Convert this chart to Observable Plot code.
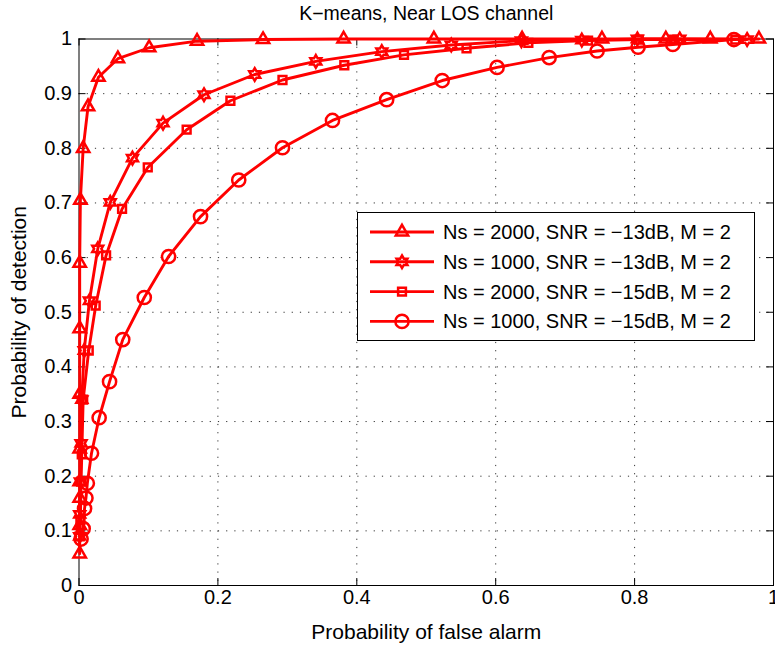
<!DOCTYPE html>
<html><head><meta charset="utf-8">
<script src="https://cdn.jsdelivr.net/npm/d3@7"></script>
<script src="https://cdn.jsdelivr.net/npm/@observablehq/plot@0.6"></script>
<style>
body{margin:0;background:#fff;}
#wrap{position:relative;width:775px;height:646px;overflow:hidden;}
#legend{position:absolute;left:357px;top:212px;}
</style></head><body><div id="wrap"></div>
<script>
const title = "K−means, Near LOS channel";
const xLabel = "Probability of false alarm";
const yLabel = "Probability of detection";
const seriesNames = [
  "Ns = 2000, SNR = −13dB, M = 2",
  "Ns = 1000, SNR = −13dB, M = 2",
  "Ns = 2000, SNR = −15dB, M = 2",
  "Ns = 1000, SNR = −15dB, M = 2"
];
const xTicks = [0, 0.2, 0.4, 0.6, 0.8, 1];
const xTickLabels = ["0", "0.2", "0.4", "0.6", "0.8", "1"];
const yTicks = [0, 0.1, 0.2, 0.3, 0.4, 0.5, 0.6, 0.7, 0.8, 0.9, 1];
const yTickLabels = ["0", "0.1", "0.2", "0.3", "0.4", "0.5", "0.6", "0.7", "0.8", "0.9", "1"];

// Ns = 2000, SNR = -13dB (triangles)
const pfaA = [0.001, 0.001, 0.001, 0.001, 0.001, 0.001, 0.001, 0.001, 0.002, 0.006, 0.013, 0.028, 0.056, 0.101, 0.170, 0.265, 0.381, 0.511, 0.638, 0.753, 0.845, 0.909, 0.979];
const pdA  = [0.058, 0.110, 0.160, 0.190, 0.250, 0.350, 0.470, 0.590, 0.705, 0.800, 0.876, 0.930, 0.964, 0.984, 0.996, 0.999, 1.000, 1.000, 1.000, 1.000, 1.000, 1.000, 1.000];
// Ns = 1000, SNR = -13dB (hexagrams)
const pfaB = [0.001, 0.001, 0.002, 0.003, 0.004, 0.0075, 0.015, 0.027, 0.045, 0.077, 0.121, 0.180, 0.253, 0.341, 0.436, 0.536, 0.637, 0.724, 0.804, 0.865, 0.962];
const pdB  = [0.090, 0.130, 0.190, 0.260, 0.340, 0.430, 0.521, 0.616, 0.701, 0.782, 0.846, 0.898, 0.935, 0.959, 0.977, 0.989, 0.997, 0.998, 1.000, 1.000, 0.999];
// Ns = 2000, SNR = -15dB (squares)
const pfaC = [0.001, 0.002, 0.003, 0.004, 0.006, 0.014, 0.024, 0.039, 0.062, 0.099, 0.155, 0.218, 0.293, 0.382, 0.468, 0.558, 0.647, 0.733, 0.806, 0.856, 0.945];
const pdC  = [0.090, 0.120, 0.190, 0.240, 0.340, 0.430, 0.512, 0.604, 0.689, 0.765, 0.834, 0.887, 0.925, 0.952, 0.971, 0.983, 0.993, 0.997, 0.999, 0.999, 0.999];
// Ns = 1000, SNR = -15dB (circles)
const pfaD = [0.003, 0.006, 0.008, 0.010, 0.012, 0.018, 0.029, 0.044, 0.063, 0.094, 0.129, 0.175, 0.230, 0.293, 0.365, 0.443, 0.523, 0.602, 0.677, 0.746, 0.805, 0.855, 0.943];
const pdD  = [0.085, 0.104, 0.141, 0.160, 0.187, 0.242, 0.307, 0.373, 0.450, 0.527, 0.602, 0.675, 0.742, 0.801, 0.851, 0.889, 0.924, 0.948, 0.966, 0.978, 0.985, 0.990, 0.999];

const hexagram = {
  draw(ctx, size) {
    const R = Math.sqrt(size / Math.PI), r = R / Math.sqrt(3);
    for (let i = 0; i < 12; i++) {
      const a = Math.PI / 6 * i - Math.PI / 2, rr = i % 2 ? r : R;
      const x = rr * Math.cos(a), y = rr * Math.sin(a);
      if (i) ctx.lineTo(x, y); else ctx.moveTo(x, y);
    }
    ctx.closePath();
  }
};
const symbols = [d3.symbolTriangle, hexagram, d3.symbolSquare, d3.symbolCircle];
const symbolR = [4.6, 6.3, 4.4, 6.6];
const pfas = [pfaA, pfaB, pfaC, pfaD];
const pds = [pdA, pdB, pdC, pdD];

const rows = [];
pfas.forEach((xs, s) => xs.forEach((x, i) => rows.push({s, x, y: pds[s][i]})));

const W = 775, H = 646;
const mL = 78.5, mR = 2, mT = 38.5, mB = 61;
const fW = W - mL - mR, fH = H - mT - mB;
const red = "#ff0000";
const font = "'Liberation Sans', Arial, Helvetica, sans-serif";
const fs = 20;
const lineW = 2.9, markW = 2.5;

const marks = [
  Plot.gridX(xTicks.slice(1, -1), {stroke: "#000", strokeOpacity: 0.8, strokeDasharray: "1.2,7"}),
  Plot.gridY(yTicks.slice(1, -1), {stroke: "#000", strokeOpacity: 0.8, strokeDasharray: "1.2,7"}),
  Plot.tickX(xTicks, {insetTop: fH - 7, stroke: "#000"}),
  Plot.tickX(xTicks, {insetBottom: fH - 7, stroke: "#000"}),
  Plot.tickY(yTicks, {insetRight: fW - 7, stroke: "#000"}),
  Plot.tickY(yTicks, {insetLeft: fW - 7, stroke: "#000"}),
  Plot.axisX(xTicks, {tickSize: 0, tickPadding: 4, tickFormat: (d, i) => xTickLabels[i], fontSize: fs, label: null}),
  Plot.axisY(yTicks, {tickSize: 0, tickPadding: 7, tickFormat: (d, i) => yTickLabels[i], fontSize: fs, label: null}),
  Plot.frame({stroke: "#000", strokeWidth: 1}),
];
for (let s = 0; s < 4; s++) {
  const data = rows.filter(d => d.s === s);
  marks.push(Plot.line(data, {x: "x", y: "y", stroke: red, strokeWidth: lineW, curve: "linear"}));
  marks.push(Plot.dot(data, {x: "x", y: "y", symbol: () => symbols[s], r: symbolR[s], stroke: red, strokeWidth: markW, fill: "none"}));
}
marks.push(Plot.text([title], {frameAnchor: "top", dy: -25, lineAnchor: "middle", textAnchor: "middle", fontSize: 19.5, fill: "#000"}));
marks.push(Plot.text([xLabel], {frameAnchor: "bottom", dy: 47, lineAnchor: "middle", textAnchor: "middle", fontSize: 21, fill: "#000"}));
marks.push(Plot.text([yLabel], {frameAnchor: "left", dx: -60, rotate: -90, lineAnchor: "middle", textAnchor: "middle", fontSize: 21, fill: "#000"}));

const chart = Plot.plot({
  width: W, height: H,
  marginLeft: mL, marginRight: mR, marginTop: mT, marginBottom: mB,
  x: {domain: [0, 1], label: null},
  y: {domain: [0, 1], label: null},
  symbol: {type: "identity"},
  style: {fontFamily: font, fontSize: fs + "px", background: "#fff", color: "#000", overflow: "visible"},
  marks
});
document.getElementById("wrap").appendChild(chart);

// Legend
const lw = 397, lh = 128;
const leg = d3.select("#wrap").append("svg").attr("id", "legend")
  .attr("width", lw + 2).attr("height", lh + 2);
leg.append("rect").attr("x", 0.5).attr("y", 0.5).attr("width", lw).attr("height", lh)
  .attr("fill", "#fff").attr("stroke", "#000");
seriesNames.forEach((name, i) => {
  const y = 20 + i * 29.8;
  leg.append("line").attr("x1", 13).attr("x2", 77).attr("y1", y).attr("y2", y)
    .attr("stroke", red).attr("stroke-width", lineW);
  leg.append("path").attr("d", d3.symbol(symbols[i], Math.PI * symbolR[i] * symbolR[i])())
    .attr("transform", `translate(45,${y})`).attr("fill", "none").attr("stroke", red).attr("stroke-width", markW);
  leg.append("text").attr("x", 86).attr("y", y).attr("dy", "0.35em")
    .attr("font-family", font).attr("font-size", 20).attr("fill", "#000").text(name);
});
</script></body></html>
